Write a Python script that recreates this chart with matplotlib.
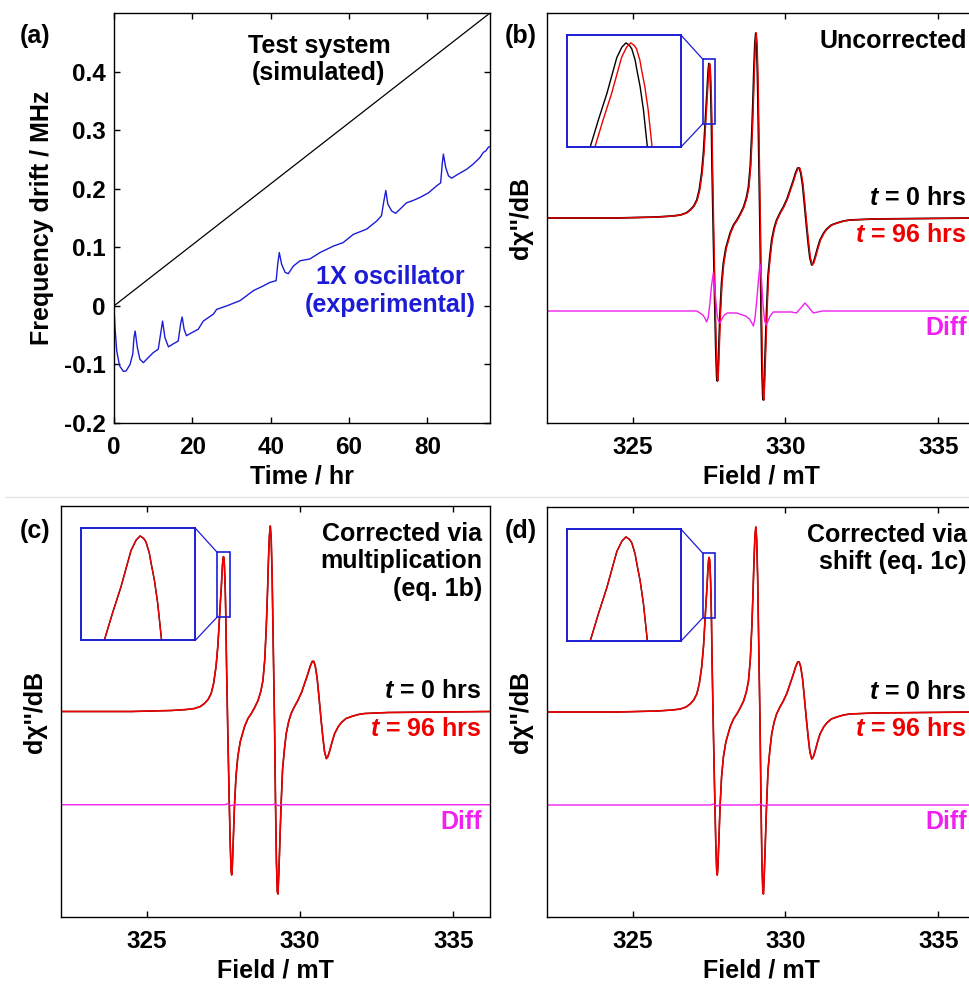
import numpy as np
import matplotlib.pyplot as plt
from matplotlib.patches import Rectangle, ConnectionPatch
from matplotlib.lines import Line2D

plt.rcParams['font.family'] = ['Liberation Sans', 'DejaVu Sans']
plt.rcParams['font.weight'] = 'bold'
plt.rcParams['axes.labelweight'] = 'bold'
plt.rcParams['mathtext.fontset'] = 'custom'
plt.rcParams['mathtext.it'] = 'Liberation Sans:italic:bold'
plt.rcParams['mathtext.rm'] = 'Liberation Sans:bold'

# (a) frequency drift
sim_time = [0, 96]
sim_drift = [0, 0.5]

osc_time = [0, 0.26, 0.7, 1.4, 2.4, 3.1, 4.1, 4.8, 5.1, 5.4, 5.96, 6.6, 7.5, 8.8,
            10.0, 11.3, 11.9, 12.4, 13.0, 13.9, 15.1, 16.4, 17.0, 17.4, 17.9, 18.5,
            19.8, 21.5, 22.8, 24.1, 25.4, 26.2, 28.8, 32.2, 35.6, 38.1, 39.8, 41.4,
            41.8, 42.2, 42.8, 43.7, 44.5, 45.8, 47.5, 50.0, 52.6, 56.0, 58.5, 61.1,
            64.5, 67.1, 68.3, 68.9, 69.4, 69.9, 70.9, 71.9, 73.0, 74.7, 76.4, 78.1,
            80.3, 82.4, 83.4, 83.8, 84.1, 84.7, 85.4, 86.2, 87.9, 90.0, 91.7, 93.4,
            94.3, 95.0, 95.6, 96.0]
osc_drift = [-0.003, -0.037, -0.077, -0.102, -0.112, -0.111, -0.100, -0.082, -0.054,
             -0.043, -0.071, -0.091, -0.097, -0.088, -0.080, -0.074, -0.048, -0.026,
             -0.054, -0.070, -0.065, -0.060, -0.031, -0.019, -0.040, -0.051, -0.046,
             -0.040, -0.026, -0.020, -0.014, -0.006, 0.000, 0.009, 0.026, 0.034, 0.040,
             0.043, 0.071, 0.091, 0.071, 0.057, 0.055, 0.068, 0.077, 0.080, 0.091,
             0.102, 0.108, 0.122, 0.131, 0.145, 0.154, 0.179, 0.197, 0.174, 0.162,
             0.158, 0.165, 0.176, 0.180, 0.185, 0.193, 0.205, 0.210, 0.242, 0.259,
             0.236, 0.222, 0.218, 0.225, 0.233, 0.242, 0.253, 0.262, 0.265, 0.271,
             0.272]

# EPR spectrum at t = 0 (arbitrary units)
field = [322.2, 324.5, 325.8, 326.3, 326.56, 326.75, 326.88, 327.0, 327.1, 327.18,
         327.26, 327.32, 327.373, 327.403, 327.433, 327.469, 327.487, 327.502,
         327.515, 327.523, 327.535, 327.541, 327.553, 327.565, 327.579, 327.6,
         327.64, 327.68, 327.72, 327.75, 327.77,
         327.79, 327.82, 327.86, 327.91, 327.97, 328.05, 328.19, 328.3, 328.41,
         328.52, 328.63, 328.72, 328.79, 328.85, 328.9, 328.94, 328.97, 329.0,
         329.03, 329.06, 329.09, 329.13, 329.17, 329.2, 329.23, 329.26, 329.28,
         329.31, 329.34, 329.38, 329.43, 329.49, 329.55, 329.63, 329.71, 329.82,
         329.93, 330.05, 330.15, 330.25, 330.33, 330.4, 330.45, 330.5, 330.56,
         330.62, 330.69, 330.75, 330.8, 330.86, 330.91, 330.97, 331.05, 331.13,
         331.25, 331.35, 331.5, 331.68, 331.9, 332.11, 332.87, 336.2]
spec_t0 = [0.0, 0.0, 0.01, 0.02, 0.03, 0.05, 0.08, 0.12, 0.18, 0.28,
           0.45, 0.66, 0.94, 1.10, 1.25, 1.46, 1.52, 1.545,
           1.53, 1.51, 1.445, 1.39, 1.29, 1.155, 0.94, 0.50,
           -0.15, -0.75, -1.30, -1.58, -1.63,
           -1.55, -1.30, -0.95, -0.65, -0.45, -0.30, -0.15, -0.07, -0.02,
           0.04, 0.11, 0.20, 0.31, 0.52, 0.85, 1.20, 1.51, 1.75,
           1.85, 1.72, 1.35, 0.60, -0.15, -0.90, -1.50, -1.80, -1.82,
           -1.60, -1.32, -0.95, -0.58, -0.38, -0.22, -0.10, -0.02, 0.05,
           0.11, 0.19, 0.28, 0.37, 0.45, 0.50, 0.50, 0.45, 0.33,
           0.14, -0.09, -0.27, -0.40, -0.47, -0.45, -0.39, -0.30, -0.22,
           -0.15, -0.11, -0.07, -0.05, -0.03, -0.02, -0.01, 0.0]
drift_shift = 0.017  # mT, uncorrected t = 96 hrs spectrum

diff_field = [322.2, 327.1, 327.3, 327.38, 327.42, 327.47, 327.53, 327.58, 327.64,
              327.7, 327.77, 327.82, 327.86, 327.92, 328.0, 328.1, 328.4, 328.7,
              328.82, 328.9, 328.95, 329.0, 329.06, 329.12, 329.17, 329.22, 329.27,
              329.32, 329.37, 329.43, 329.5, 329.6, 330.2, 330.36, 330.5, 330.64,
              330.78, 330.91, 331.2, 336.2]
diff_uncorr = [0, 0, -0.04, -0.08, -0.11, -0.07, 0.08, 0.25, 0.38, 0.18, -0.05,
               -0.11, -0.12, -0.08, -0.04, -0.02, -0.02, -0.05, -0.08, -0.12, -0.15,
               -0.08, 0.10, 0.32, 0.47, 0.30, 0.05, -0.10, -0.14, -0.10, -0.05,
               -0.01, -0.01, -0.02, 0.03, 0.08, 0.03, -0.02, 0, 0]
corr_field = [322.2, 327.55, 327.65, 327.75, 327.85, 329.1, 329.2, 329.3, 329.4, 336.2]
diff_corr = [0, 0, 0.01, -0.01, 0, 0, 0.01, -0.01, 0, 0]
diff_offset = -0.93

W, H = 969, 984
fig = plt.figure(figsize=(W / 100, H / 100), dpi=100)


def px_axes(l, t, r, b):
    return fig.add_axes([l / W, 1 - b / H, (r - l) / W, (b - t) / H])


def style(ax):
    ax.tick_params(direction='in', top=True, right=True, length=4, width=1,
                   labelsize=17.5, pad=9)
    for s in ax.spines.values():
        s.set_linewidth(1.0)


blue = '#1c1cd6'
red = '#ee0000'
mag = '#f020f0'
fs = 18

# panel (a)
ax = px_axes(114, 13, 490, 423)
ax.plot(sim_time, sim_drift, color='k', lw=0.9)
ax.plot(osc_time, osc_drift, color=blue, lw=1.0)
ax.set_xlim(0, 96)
ax.set_ylim(-0.2, 0.5)
ax.set_xticks([0, 20, 40, 60, 80])
ax.set_yticks([-0.2, -0.1, 0, 0.1, 0.2, 0.3, 0.4])
ax.set_yticklabels(['-0.2', '-0.1', '0', '0.1', '0.2', '0.3', '0.4'])
style(ax)
ax.tick_params(axis='y', pad=6)
ax.set_xlabel('Time / hr', fontsize=fs, labelpad=4)
ax.set_ylabel('Frequency drift / MHz', fontsize=fs, labelpad=7)
ax.text(52.3, 0.465, 'Test system\n(simulated)', ha='center', va='top',
        fontsize=fs, color='k')
ax.text(70.5, 0.069, '1X oscillator\n(experimental)', ha='center', va='top',
        fontsize=fs, color=blue)


def epr_panel(l, t, r, b, shifted, diff_x, diff_y, title):
    ax = px_axes(l, t, r, b)
    red_x = np.array(field) + (drift_shift if shifted else 0.0)
    ax.plot(field, spec_t0, color='k', lw=1.3 if shifted else 1.0)
    ax.plot(red_x, spec_t0, color=red, lw=1.0 if shifted else 1.2)
    ax.plot(diff_x, np.array(diff_y) + diff_offset, color=mag, lw=1.0)
    ax.set_xlim(322.2, 336.2)
    ax.set_ylim(-2.05, 2.05)
    ax.set_xticks([325, 330, 335])
    ax.set_yticks([])
    style(ax)
    ax.set_xlabel('Field / mT', fontsize=fs, labelpad=4)
    ax.set_ylabel("d\u03c7''/dB", fontsize=fs, labelpad=10)
    tr = ax.get_yaxis_transform()
    xr = 0.981
    ax.text(xr, 0.962, title, transform=ax.transAxes, ha='right', va='top',
            fontsize=fs, color='k')
    ax.text(xr, 0.20, r'$\mathit{t}$ = 0 hrs', transform=tr, ha='right',
            va='center', fontsize=fs, color='k')
    ax.text(xr, -0.17, r'$\mathit{t}$ = 96 hrs', transform=tr, ha='right',
            va='center', fontsize=fs, color=red)
    ax.text(xr, -1.10, 'Diff', transform=tr, ha='right', va='center',
            fontsize=fs, color=mag)

    # zoomed inset on first peak
    x0, x1, y0, y1 = 327.29, 327.70, 0.94, 1.59
    axins = ax.inset_axes([0.047, 0.673, 0.266, 0.273])
    axins.plot(field, spec_t0, color='k', lw=1.0)
    axins.plot(red_x, spec_t0, color=red, lw=1.0)
    axins.set_xlim(x0, x1)
    axins.set_ylim(y0, y1)
    axins.set_xticks([])
    axins.set_yticks([])
    for s in axins.spines.values():
        s.set_color(blue)
        s.set_linewidth(1.4)
    ax.add_patch(Rectangle((x0, y0), x1 - x0, y1 - y0, fill=False,
                           edgecolor=blue, lw=1.2, zorder=5))
    for ya, yb in [(1, y1), (0, y0)]:
        con = ConnectionPatch(xyA=(1, ya), coordsA=axins.transAxes,
                              xyB=(x0, yb), coordsB=ax.transData,
                              color=blue, lw=0.9)
        fig.add_artist(con)
    return ax


epr_panel(547, 13, 975, 423, True, diff_field, diff_uncorr, 'Uncorrected')
epr_panel(61, 506, 490, 917, False, corr_field, diff_corr,
          'Corrected via\nmultiplication\n(eq. 1b)')
epr_panel(547, 507, 975, 917, False, corr_field, diff_corr,
          'Corrected via\nshift (eq. 1c)')

for x, y, lab in [(20, 24, '(a)'), (505, 24, '(b)'), (20, 519, '(c)'), (505, 519, '(d)')]:
    fig.text(x / W, 1 - y / H, lab, ha='left', va='top', fontsize=fs)

fig.add_artist(Line2D([6 / W, 1], [1 - 497 / H] * 2, color='#e4e4e4', lw=1.0))

fig.savefig('out.png', dpi=100)
